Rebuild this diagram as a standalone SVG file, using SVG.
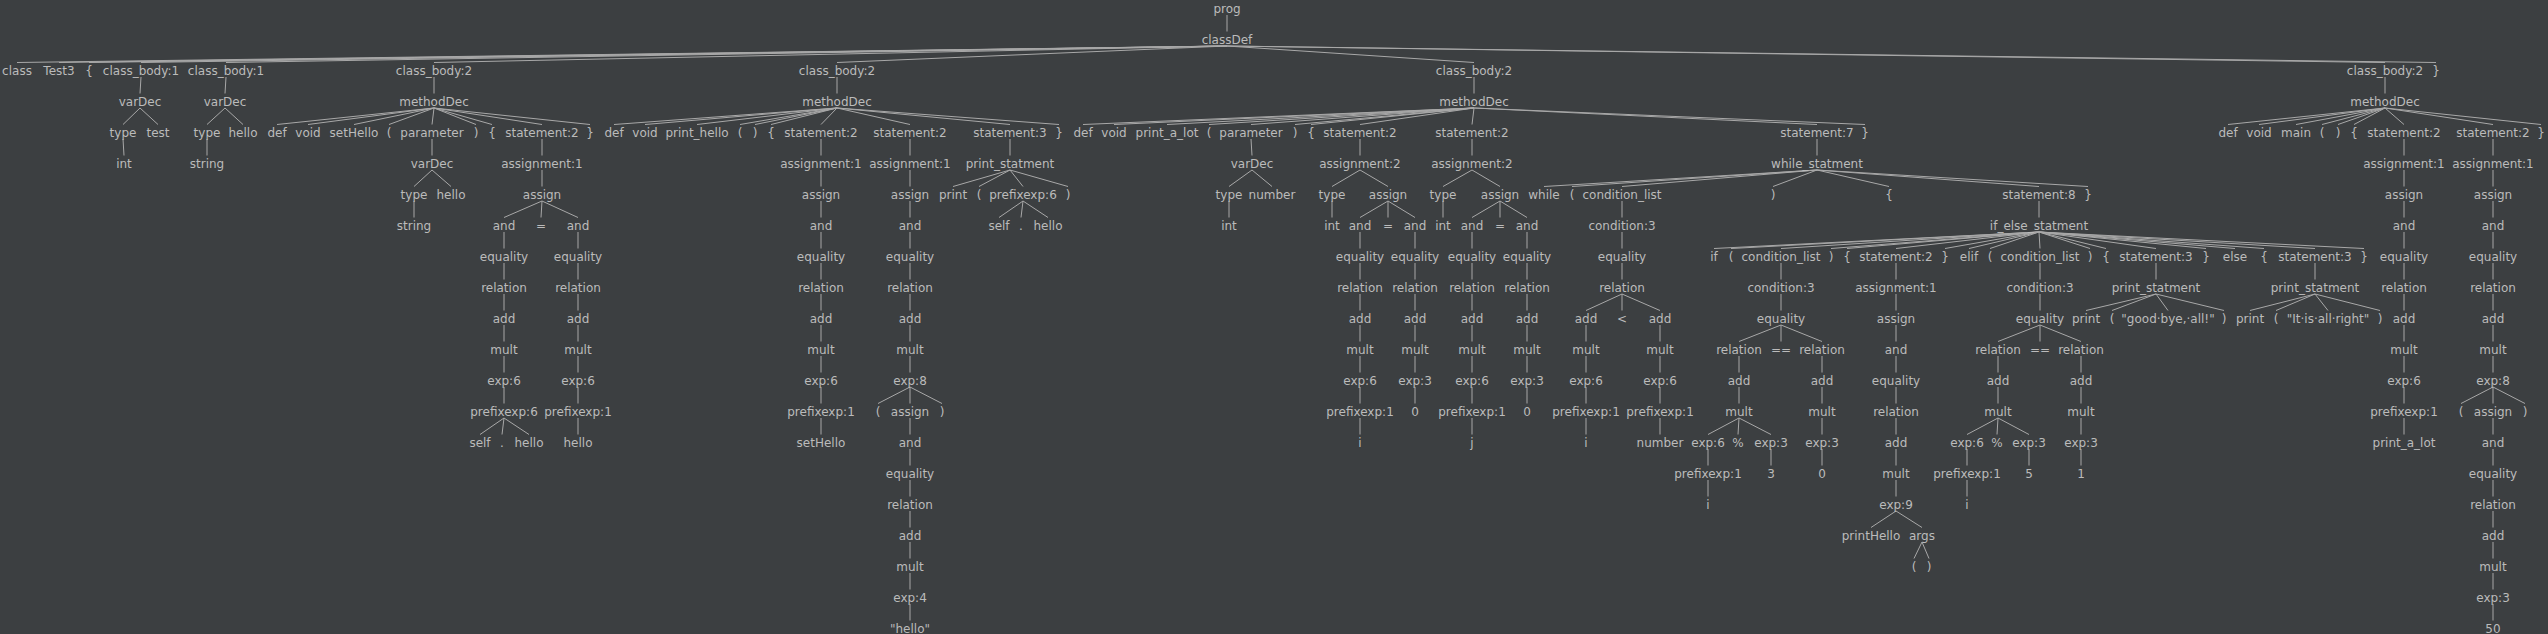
<svg xmlns="http://www.w3.org/2000/svg" width="2548" height="634" viewBox="0 0 2548 634">
<style>
text{font-family:"DejaVu Sans","Liberation Sans",sans-serif;font-size:12px;fill:#bbbbbb;text-anchor:middle}
#edges path{stroke:#a8a8a8;stroke-width:1;fill:none}
</style>
<rect width="2548" height="634" fill="#3c3f41"/>
<g id="edges">
<path d="M1227 15L1227 31.5"/>
<path d="M1227 46L17 62.5"/><path d="M1227 46L59 62.5"/><path d="M1227 46L89 62.5"/><path d="M1227 46L141 62.5"/><path d="M1227 46L226 62.5"/><path d="M1227 46L434 62.5"/><path d="M1227 46L837 62.5"/><path d="M1227 46L1474 62.5"/><path d="M1227 46L2385 62.5"/><path d="M1227 46L2436 62.5"/>
<path d="M141 77L140 93.5"/><path d="M140 108L123 124.5"/><path d="M140 108L158 124.5"/><path d="M123 139L124 155.5"/>
<path d="M226 77L225 93.5"/><path d="M225 108L207 124.5"/><path d="M225 108L243 124.5"/><path d="M207 139L207 155.5"/>
<path d="M434 77L434 93.5"/>
<path d="M434 108L277 124.5"/><path d="M434 108L308 124.5"/><path d="M434 108L354 124.5"/><path d="M434 108L389 124.5"/><path d="M434 108L432 124.5"/><path d="M434 108L476 124.5"/><path d="M434 108L492 124.5"/><path d="M434 108L542 124.5"/><path d="M434 108L590 124.5"/>
<path d="M432 139L432 155.5"/><path d="M432 170L414 186.5"/><path d="M432 170L451 186.5"/><path d="M414 201L414 217.5"/>
<path d="M542 139L542 155.5"/><path d="M542 170L542 186.5"/><path d="M542 201L504 217.5"/><path d="M542 201L541 217.5"/><path d="M542 201L578 217.5"/>
<path d="M504 232L504 248.5"/><path d="M504 263L504 279.5"/><path d="M504 294L504 310.5"/><path d="M504 325L504 341.5"/><path d="M504 356L504 372.5"/><path d="M504 387L504 403.5"/><path d="M504 418L480 434.5"/><path d="M504 418L502 434.5"/><path d="M504 418L529 434.5"/>
<path d="M578 232L578 248.5"/><path d="M578 263L578 279.5"/><path d="M578 294L578 310.5"/><path d="M578 325L578 341.5"/><path d="M578 356L578 372.5"/><path d="M578 387L578 403.5"/><path d="M578 418L578 434.5"/>
<path d="M837 77L837 93.5"/>
<path d="M837 108L614 124.5"/><path d="M837 108L645 124.5"/><path d="M837 108L697 124.5"/><path d="M837 108L740 124.5"/><path d="M837 108L755 124.5"/><path d="M837 108L771 124.5"/><path d="M837 108L821 124.5"/><path d="M837 108L910 124.5"/><path d="M837 108L1010 124.5"/><path d="M837 108L1059 124.5"/>
<path d="M821 139L821 155.5"/><path d="M821 170L821 186.5"/><path d="M821 201L821 217.5"/><path d="M821 232L821 248.5"/><path d="M821 263L821 279.5"/><path d="M821 294L821 310.5"/><path d="M821 325L821 341.5"/><path d="M821 356L821 372.5"/><path d="M821 387L821 403.5"/><path d="M821 418L821 434.5"/>
<path d="M910 139L910 155.5"/><path d="M910 170L910 186.5"/><path d="M910 201L910 217.5"/><path d="M910 232L910 248.5"/><path d="M910 263L910 279.5"/><path d="M910 294L910 310.5"/><path d="M910 325L910 341.5"/><path d="M910 356L910 372.5"/><path d="M910 387L878 403.5"/><path d="M910 387L910 403.5"/><path d="M910 387L942 403.5"/><path d="M910 418L910 434.5"/><path d="M910 449L910 465.5"/><path d="M910 480L910 496.5"/><path d="M910 511L910 527.5"/><path d="M910 542L910 558.5"/><path d="M910 573L910 589.5"/><path d="M910 604L910 620.5"/>
<path d="M1010 139L1010 155.5"/><path d="M1010 170L953 186.5"/><path d="M1010 170L979 186.5"/><path d="M1010 170L1023 186.5"/><path d="M1010 170L1068 186.5"/><path d="M1023 201L999 217.5"/><path d="M1023 201L1021 217.5"/><path d="M1023 201L1048 217.5"/>
<path d="M1474 77L1474 93.5"/>
<path d="M1474 108L1083 124.5"/><path d="M1474 108L1114 124.5"/><path d="M1474 108L1167 124.5"/><path d="M1474 108L1209 124.5"/><path d="M1474 108L1251 124.5"/><path d="M1474 108L1295 124.5"/><path d="M1474 108L1311 124.5"/><path d="M1474 108L1360 124.5"/><path d="M1474 108L1472 124.5"/><path d="M1474 108L1817 124.5"/><path d="M1474 108L1865 124.5"/>
<path d="M1251 139L1252 155.5"/><path d="M1252 170L1229 186.5"/><path d="M1252 170L1272 186.5"/><path d="M1229 201L1229 217.5"/>
<path d="M1360 139L1360 155.5"/><path d="M1360 170L1332 186.5"/><path d="M1360 170L1388 186.5"/><path d="M1332 201L1332 217.5"/><path d="M1388 201L1360 217.5"/><path d="M1388 201L1388 217.5"/><path d="M1388 201L1415 217.5"/>
<path d="M1360 232L1360 248.5"/><path d="M1360 263L1360 279.5"/><path d="M1360 294L1360 310.5"/><path d="M1360 325L1360 341.5"/><path d="M1360 356L1360 372.5"/><path d="M1360 387L1360 403.5"/><path d="M1360 418L1360 434.5"/>
<path d="M1415 232L1415 248.5"/><path d="M1415 263L1415 279.5"/><path d="M1415 294L1415 310.5"/><path d="M1415 325L1415 341.5"/><path d="M1415 356L1415 372.5"/><path d="M1415 387L1415 403.5"/>
<path d="M1472 139L1472 155.5"/><path d="M1472 170L1443 186.5"/><path d="M1472 170L1500 186.5"/><path d="M1443 201L1443 217.5"/><path d="M1500 201L1472 217.5"/><path d="M1500 201L1500 217.5"/><path d="M1500 201L1527 217.5"/>
<path d="M1472 232L1472 248.5"/><path d="M1472 263L1472 279.5"/><path d="M1472 294L1472 310.5"/><path d="M1472 325L1472 341.5"/><path d="M1472 356L1472 372.5"/><path d="M1472 387L1472 403.5"/><path d="M1472 418L1472 434.5"/>
<path d="M1527 232L1527 248.5"/><path d="M1527 263L1527 279.5"/><path d="M1527 294L1527 310.5"/><path d="M1527 325L1527 341.5"/><path d="M1527 356L1527 372.5"/><path d="M1527 387L1527 403.5"/>
<path d="M1817 139L1817 155.5"/>
<path d="M1817 170L1544 186.5"/><path d="M1817 170L1572 186.5"/><path d="M1817 170L1622 186.5"/><path d="M1817 170L1773 186.5"/><path d="M1817 170L1889 186.5"/><path d="M1817 170L2039 186.5"/><path d="M1817 170L2088 186.5"/>
<path d="M1622 201L1622 217.5"/><path d="M1622 232L1622 248.5"/><path d="M1622 263L1622 279.5"/><path d="M1622 294L1586 310.5"/><path d="M1622 294L1622 310.5"/><path d="M1622 294L1660 310.5"/>
<path d="M1586 325L1586 341.5"/><path d="M1586 356L1586 372.5"/><path d="M1586 387L1586 403.5"/><path d="M1586 418L1586 434.5"/>
<path d="M1660 325L1660 341.5"/><path d="M1660 356L1660 372.5"/><path d="M1660 387L1660 403.5"/><path d="M1660 418L1660 434.5"/>
<path d="M2039 201L2039 217.5"/>
<path d="M2039 232L1714 248.5"/><path d="M2039 232L1731 248.5"/><path d="M2039 232L1781 248.5"/><path d="M2039 232L1831 248.5"/><path d="M2039 232L1847 248.5"/><path d="M2039 232L1896 248.5"/><path d="M2039 232L1945 248.5"/><path d="M2039 232L1969 248.5"/><path d="M2039 232L1990 248.5"/><path d="M2039 232L2040 248.5"/><path d="M2039 232L2090 248.5"/><path d="M2039 232L2106 248.5"/><path d="M2039 232L2156 248.5"/><path d="M2039 232L2206 248.5"/><path d="M2039 232L2235 248.5"/><path d="M2039 232L2264 248.5"/><path d="M2039 232L2315 248.5"/><path d="M2039 232L2364 248.5"/>
<path d="M1781 263L1781 279.5"/><path d="M1781 294L1781 310.5"/><path d="M1781 325L1739 341.5"/><path d="M1781 325L1781 341.5"/><path d="M1781 325L1822 341.5"/>
<path d="M1739 356L1739 372.5"/><path d="M1739 387L1739 403.5"/><path d="M1739 418L1708 434.5"/><path d="M1739 418L1738 434.5"/><path d="M1739 418L1771 434.5"/><path d="M1708 449L1708 465.5"/><path d="M1708 480L1708 496.5"/><path d="M1771 449L1771 465.5"/>
<path d="M1822 356L1822 372.5"/><path d="M1822 387L1822 403.5"/><path d="M1822 418L1822 434.5"/><path d="M1822 449L1822 465.5"/>
<path d="M1896 263L1896 279.5"/><path d="M1896 294L1896 310.5"/><path d="M1896 325L1896 341.5"/><path d="M1896 356L1896 372.5"/><path d="M1896 387L1896 403.5"/><path d="M1896 418L1896 434.5"/><path d="M1896 449L1896 465.5"/><path d="M1896 480L1896 496.5"/><path d="M1896 511L1871 527.5"/><path d="M1896 511L1922 527.5"/><path d="M1922 542L1914 558.5"/><path d="M1922 542L1929 558.5"/>
<path d="M2040 263L2040 279.5"/><path d="M2040 294L2040 310.5"/><path d="M2040 325L1998 341.5"/><path d="M2040 325L2040 341.5"/><path d="M2040 325L2081 341.5"/>
<path d="M1998 356L1998 372.5"/><path d="M1998 387L1998 403.5"/><path d="M1998 418L1967 434.5"/><path d="M1998 418L1997 434.5"/><path d="M1998 418L2029 434.5"/><path d="M1967 449L1967 465.5"/><path d="M1967 480L1967 496.5"/><path d="M2029 449L2029 465.5"/>
<path d="M2081 356L2081 372.5"/><path d="M2081 387L2081 403.5"/><path d="M2081 418L2081 434.5"/><path d="M2081 449L2081 465.5"/>
<path d="M2156 263L2156 279.5"/><path d="M2156 294L2086 310.5"/><path d="M2156 294L2112 310.5"/><path d="M2156 294L2168 310.5"/><path d="M2156 294L2224 310.5"/>
<path d="M2315 263L2315 279.5"/><path d="M2315 294L2250 310.5"/><path d="M2315 294L2276 310.5"/><path d="M2315 294L2328 310.5"/><path d="M2315 294L2380 310.5"/>
<path d="M2385 77L2385 93.5"/>
<path d="M2385 108L2228 124.5"/><path d="M2385 108L2259 124.5"/><path d="M2385 108L2296 124.5"/><path d="M2385 108L2322 124.5"/><path d="M2385 108L2338 124.5"/><path d="M2385 108L2354 124.5"/><path d="M2385 108L2404 124.5"/><path d="M2385 108L2493 124.5"/><path d="M2385 108L2541 124.5"/>
<path d="M2404 139L2404 155.5"/><path d="M2404 170L2404 186.5"/><path d="M2404 201L2404 217.5"/><path d="M2404 232L2404 248.5"/><path d="M2404 263L2404 279.5"/><path d="M2404 294L2404 310.5"/><path d="M2404 325L2404 341.5"/><path d="M2404 356L2404 372.5"/><path d="M2404 387L2404 403.5"/><path d="M2404 418L2404 434.5"/>
<path d="M2493 139L2493 155.5"/><path d="M2493 170L2493 186.5"/><path d="M2493 201L2493 217.5"/><path d="M2493 232L2493 248.5"/><path d="M2493 263L2493 279.5"/><path d="M2493 294L2493 310.5"/><path d="M2493 325L2493 341.5"/><path d="M2493 356L2493 372.5"/><path d="M2493 387L2461 403.5"/><path d="M2493 387L2493 403.5"/><path d="M2493 387L2525 403.5"/><path d="M2493 418L2493 434.5"/><path d="M2493 449L2493 465.5"/><path d="M2493 480L2493 496.5"/><path d="M2493 511L2493 527.5"/><path d="M2493 542L2493 558.5"/><path d="M2493 573L2493 589.5"/><path d="M2493 604L2493 620.5"/>
</g>
<g id="n_prog"><text x="1227" y="12.5">prog</text></g>
<g id="n_classDef"><text x="1227" y="43.5">classDef</text></g>
<g id="n_class"><text x="17" y="74.5">class</text></g>
<g id="n_Test3"><text x="59" y="74.5">Test3</text></g>
<g id="n_lb0"><text x="89" y="74.5">{</text></g>
<g id="n_cb1a"><text x="141" y="74.5">class_body:1</text></g>
<g id="n_cb1b"><text x="226" y="74.5">class_body:1</text></g>
<g id="n_cb2a"><text x="434" y="74.5">class_body:2</text></g>
<g id="n_cb2b"><text x="837" y="74.5">class_body:2</text></g>
<g id="n_cb2c"><text x="1474" y="74.5">class_body:2</text></g>
<g id="n_cb2d"><text x="2385" y="74.5">class_body:2</text></g>
<g id="n_rb0"><text x="2436" y="74.5">}</text></g>
<g id="a_varDec"><text x="140" y="105.5">varDec</text></g>
<g id="a_type"><text x="123" y="136.5">type</text></g>
<g id="a_test"><text x="158" y="136.5">test</text></g>
<g id="a_int"><text x="124" y="167.5">int</text></g>
<g id="b_varDec"><text x="225" y="105.5">varDec</text></g>
<g id="b_type"><text x="207" y="136.5">type</text></g>
<g id="b_hello"><text x="243" y="136.5">hello</text></g>
<g id="b_string"><text x="207" y="167.5">string</text></g>
<g id="c_methodDec"><text x="434" y="105.5">methodDec</text></g>
<g id="c_def"><text x="277" y="136.5">def</text></g>
<g id="c_void"><text x="308" y="136.5">void</text></g>
<g id="c_setHello"><text x="354" y="136.5">setHello</text></g>
<g id="c_lp"><text x="389" y="136.5">(</text></g>
<g id="c_parameter"><text x="432" y="136.5">parameter</text></g>
<g id="c_rp"><text x="476" y="136.5">)</text></g>
<g id="c_lb"><text x="492" y="136.5">{</text></g>
<g id="c_st2"><text x="542" y="136.5">statement:2</text></g>
<g id="c_rb"><text x="590" y="136.5">}</text></g>
<g id="c_varDec"><text x="432" y="167.5">varDec</text></g>
<g id="c_type"><text x="414" y="198.5">type</text></g>
<g id="c_hello"><text x="451" y="198.5">hello</text></g>
<g id="c_string"><text x="414" y="229.5">string</text></g>
<g id="c_asg1"><text x="542" y="167.5">assignment:1</text></g>
<g id="c_assign"><text x="542" y="198.5">assign</text></g>
<g id="c_and1"><text x="504" y="229.5">and</text></g>
<g id="c_eq"><text x="541" y="229.5">=</text></g>
<g id="c_and2"><text x="578" y="229.5">and</text></g>
<g id="c1_equality"><text x="504" y="260.5">equality</text></g>
<g id="c1_relation"><text x="504" y="291.5">relation</text></g>
<g id="c1_add"><text x="504" y="322.5">add</text></g>
<g id="c1_mult"><text x="504" y="353.5">mult</text></g>
<g id="c1_exp"><text x="504" y="384.5">exp:6</text></g>
<g id="c1_prefix"><text x="504" y="415.5">prefixexp:6</text></g>
<g id="c1_self"><text x="480" y="446.5">self</text></g>
<g id="c1_dot"><text x="502" y="446.5">.</text></g>
<g id="c1_hello"><text x="529" y="446.5">hello</text></g>
<g id="c2_equality"><text x="578" y="260.5">equality</text></g>
<g id="c2_relation"><text x="578" y="291.5">relation</text></g>
<g id="c2_add"><text x="578" y="322.5">add</text></g>
<g id="c2_mult"><text x="578" y="353.5">mult</text></g>
<g id="c2_exp"><text x="578" y="384.5">exp:6</text></g>
<g id="c2_prefix"><text x="578" y="415.5">prefixexp:1</text></g>
<g id="c2_hello"><text x="578" y="446.5">hello</text></g>
<g id="d_methodDec"><text x="837" y="105.5">methodDec</text></g>
<g id="d_def"><text x="614" y="136.5">def</text></g>
<g id="d_void"><text x="645" y="136.5">void</text></g>
<g id="d_print_hello"><text x="697" y="136.5">print_hello</text></g>
<g id="d_lp"><text x="740" y="136.5">(</text></g>
<g id="d_rp"><text x="755" y="136.5">)</text></g>
<g id="d_lb"><text x="771" y="136.5">{</text></g>
<g id="d_st2a"><text x="821" y="136.5">statement:2</text></g>
<g id="d_st2b"><text x="910" y="136.5">statement:2</text></g>
<g id="d_st3"><text x="1010" y="136.5">statement:3</text></g>
<g id="d_rb"><text x="1059" y="136.5">}</text></g>
<g id="d1_asg"><text x="821" y="167.5">assignment:1</text></g>
<g id="d1_assign"><text x="821" y="198.5">assign</text></g>
<g id="d1_and"><text x="821" y="229.5">and</text></g>
<g id="d1_equality"><text x="821" y="260.5">equality</text></g>
<g id="d1_relation"><text x="821" y="291.5">relation</text></g>
<g id="d1_add"><text x="821" y="322.5">add</text></g>
<g id="d1_mult"><text x="821" y="353.5">mult</text></g>
<g id="d1_exp"><text x="821" y="384.5">exp:6</text></g>
<g id="d1_prefix"><text x="821" y="415.5">prefixexp:1</text></g>
<g id="d1_setHello"><text x="821" y="446.5">setHello</text></g>
<g id="d2_asg"><text x="910" y="167.5">assignment:1</text></g>
<g id="d2_assign"><text x="910" y="198.5">assign</text></g>
<g id="d2_and"><text x="910" y="229.5">and</text></g>
<g id="d2_equality"><text x="910" y="260.5">equality</text></g>
<g id="d2_relation"><text x="910" y="291.5">relation</text></g>
<g id="d2_add"><text x="910" y="322.5">add</text></g>
<g id="d2_mult"><text x="910" y="353.5">mult</text></g>
<g id="d2_exp8"><text x="910" y="384.5">exp:8</text></g>
<g id="d2_lp"><text x="878" y="415.5">(</text></g>
<g id="d2_assign2"><text x="910" y="415.5">assign</text></g>
<g id="d2_rp"><text x="942" y="415.5">)</text></g>
<g id="d2_and2"><text x="910" y="446.5">and</text></g>
<g id="d2_equality2"><text x="910" y="477.5">equality</text></g>
<g id="d2_relation2"><text x="910" y="508.5">relation</text></g>
<g id="d2_add2"><text x="910" y="539.5">add</text></g>
<g id="d2_mult2"><text x="910" y="570.5">mult</text></g>
<g id="d2_exp4"><text x="910" y="601.5">exp:4</text></g>
<g id="d2_hello"><text x="910" y="632.5">"hello"</text></g>
<g id="d3_print_statment"><text x="1010" y="167.5">print_statment</text></g>
<g id="d3_print"><text x="953" y="198.5">print</text></g>
<g id="d3_lp"><text x="979" y="198.5">(</text></g>
<g id="d3_prefix"><text x="1023" y="198.5">prefixexp:6</text></g>
<g id="d3_rp"><text x="1068" y="198.5">)</text></g>
<g id="d3_self"><text x="999" y="229.5">self</text></g>
<g id="d3_dot"><text x="1021" y="229.5">.</text></g>
<g id="d3_hello"><text x="1048" y="229.5">hello</text></g>
<g id="e_methodDec"><text x="1474" y="105.5">methodDec</text></g>
<g id="e_def"><text x="1083" y="136.5">def</text></g>
<g id="e_void"><text x="1114" y="136.5">void</text></g>
<g id="e_print_a_lot"><text x="1167" y="136.5">print_a_lot</text></g>
<g id="e_lp"><text x="1209" y="136.5">(</text></g>
<g id="e_parameter"><text x="1251" y="136.5">parameter</text></g>
<g id="e_rp"><text x="1295" y="136.5">)</text></g>
<g id="e_lb"><text x="1311" y="136.5">{</text></g>
<g id="e_st2a"><text x="1360" y="136.5">statement:2</text></g>
<g id="e_st2b"><text x="1472" y="136.5">statement:2</text></g>
<g id="e_st7"><text x="1817" y="136.5">statement:7</text></g>
<g id="e_rb"><text x="1865" y="136.5">}</text></g>
<g id="e_varDec"><text x="1252" y="167.5">varDec</text></g>
<g id="e_type"><text x="1229" y="198.5">type</text></g>
<g id="e_number"><text x="1272" y="198.5">number</text></g>
<g id="e_int"><text x="1229" y="229.5">int</text></g>
<g id="e1_asg"><text x="1360" y="167.5">assignment:2</text></g>
<g id="e1_type"><text x="1332" y="198.5">type</text></g>
<g id="e1_assign"><text x="1388" y="198.5">assign</text></g>
<g id="e1_int"><text x="1332" y="229.5">int</text></g>
<g id="e1_and1"><text x="1360" y="229.5">and</text></g>
<g id="e1_eq"><text x="1388" y="229.5">=</text></g>
<g id="e1_and2"><text x="1415" y="229.5">and</text></g>
<g id="e1a_equality"><text x="1360" y="260.5">equality</text></g>
<g id="e1a_relation"><text x="1360" y="291.5">relation</text></g>
<g id="e1a_add"><text x="1360" y="322.5">add</text></g>
<g id="e1a_mult"><text x="1360" y="353.5">mult</text></g>
<g id="e1a_exp"><text x="1360" y="384.5">exp:6</text></g>
<g id="e1a_prefix"><text x="1360" y="415.5">prefixexp:1</text></g>
<g id="e1a_i"><text x="1360" y="446.5">i</text></g>
<g id="e1b_equality"><text x="1415" y="260.5">equality</text></g>
<g id="e1b_relation"><text x="1415" y="291.5">relation</text></g>
<g id="e1b_add"><text x="1415" y="322.5">add</text></g>
<g id="e1b_mult"><text x="1415" y="353.5">mult</text></g>
<g id="e1b_exp"><text x="1415" y="384.5">exp:3</text></g>
<g id="e1b_0"><text x="1415" y="415.5">0</text></g>
<g id="e2_asg"><text x="1472" y="167.5">assignment:2</text></g>
<g id="e2_type"><text x="1443" y="198.5">type</text></g>
<g id="e2_assign"><text x="1500" y="198.5">assign</text></g>
<g id="e2_int"><text x="1443" y="229.5">int</text></g>
<g id="e2_and1"><text x="1472" y="229.5">and</text></g>
<g id="e2_eq"><text x="1500" y="229.5">=</text></g>
<g id="e2_and2"><text x="1527" y="229.5">and</text></g>
<g id="e2a_equality"><text x="1472" y="260.5">equality</text></g>
<g id="e2a_relation"><text x="1472" y="291.5">relation</text></g>
<g id="e2a_add"><text x="1472" y="322.5">add</text></g>
<g id="e2a_mult"><text x="1472" y="353.5">mult</text></g>
<g id="e2a_exp"><text x="1472" y="384.5">exp:6</text></g>
<g id="e2a_prefix"><text x="1472" y="415.5">prefixexp:1</text></g>
<g id="e2a_j"><text x="1472" y="446.5">j</text></g>
<g id="e2b_equality"><text x="1527" y="260.5">equality</text></g>
<g id="e2b_relation"><text x="1527" y="291.5">relation</text></g>
<g id="e2b_add"><text x="1527" y="322.5">add</text></g>
<g id="e2b_mult"><text x="1527" y="353.5">mult</text></g>
<g id="e2b_exp"><text x="1527" y="384.5">exp:3</text></g>
<g id="e2b_0"><text x="1527" y="415.5">0</text></g>
<g id="w_while_statment"><text x="1817" y="167.5">while_statment</text></g>
<g id="w_while"><text x="1544" y="198.5">while</text></g>
<g id="w_lp"><text x="1572" y="198.5">(</text></g>
<g id="w_condlist"><text x="1622" y="198.5">condition_list</text></g>
<g id="w_rp"><text x="1773" y="198.5">)</text></g>
<g id="w_lb"><text x="1889" y="198.5">{</text></g>
<g id="w_st8"><text x="2039" y="198.5">statement:8</text></g>
<g id="w_rb"><text x="2088" y="198.5">}</text></g>
<g id="w_cond"><text x="1622" y="229.5">condition:3</text></g>
<g id="w_equality"><text x="1622" y="260.5">equality</text></g>
<g id="w_relation"><text x="1622" y="291.5">relation</text></g>
<g id="w_add1"><text x="1586" y="322.5">add</text></g>
<g id="w_lt"><text x="1622" y="322.5">&lt;</text></g>
<g id="w_add2"><text x="1660" y="322.5">add</text></g>
<g id="w1_mult"><text x="1586" y="353.5">mult</text></g>
<g id="w1_exp"><text x="1586" y="384.5">exp:6</text></g>
<g id="w1_prefix"><text x="1586" y="415.5">prefixexp:1</text></g>
<g id="w1_i"><text x="1586" y="446.5">i</text></g>
<g id="w2_mult"><text x="1660" y="353.5">mult</text></g>
<g id="w2_exp"><text x="1660" y="384.5">exp:6</text></g>
<g id="w2_prefix"><text x="1660" y="415.5">prefixexp:1</text></g>
<g id="w2_number"><text x="1660" y="446.5">number</text></g>
<g id="f_if_else"><text x="2039" y="229.5">if_else_statment</text></g>
<g id="f_if"><text x="1714" y="260.5">if</text></g>
<g id="f_lp1"><text x="1731" y="260.5">(</text></g>
<g id="f_cl1"><text x="1781" y="260.5">condition_list</text></g>
<g id="f_rp1"><text x="1831" y="260.5">)</text></g>
<g id="f_lb1"><text x="1847" y="260.5">{</text></g>
<g id="f_st2"><text x="1896" y="260.5">statement:2</text></g>
<g id="f_rb1"><text x="1945" y="260.5">}</text></g>
<g id="f_elif"><text x="1969" y="260.5">elif</text></g>
<g id="f_lp2"><text x="1990" y="260.5">(</text></g>
<g id="f_cl2"><text x="2040" y="260.5">condition_list</text></g>
<g id="f_rp2"><text x="2090" y="260.5">)</text></g>
<g id="f_lb2"><text x="2106" y="260.5">{</text></g>
<g id="f_st3a"><text x="2156" y="260.5">statement:3</text></g>
<g id="f_rb2"><text x="2206" y="260.5">}</text></g>
<g id="f_else"><text x="2235" y="260.5">else</text></g>
<g id="f_lb3"><text x="2264" y="260.5">{</text></g>
<g id="f_st3b"><text x="2315" y="260.5">statement:3</text></g>
<g id="f_rb3"><text x="2364" y="260.5">}</text></g>
<g id="f1_cond"><text x="1781" y="291.5">condition:3</text></g>
<g id="f1_equality"><text x="1781" y="322.5">equality</text></g>
<g id="f1_rel1"><text x="1739" y="353.5">relation</text></g>
<g id="f1_eqeq"><text x="1781" y="353.5">==</text></g>
<g id="f1_rel2"><text x="1822" y="353.5">relation</text></g>
<g id="f1a_add"><text x="1739" y="384.5">add</text></g>
<g id="f1a_mult"><text x="1739" y="415.5">mult</text></g>
<g id="f1a_exp6"><text x="1708" y="446.5">exp:6</text></g>
<g id="f1a_pct"><text x="1738" y="446.5">%</text></g>
<g id="f1a_exp3"><text x="1771" y="446.5">exp:3</text></g>
<g id="f1a_prefix"><text x="1708" y="477.5">prefixexp:1</text></g>
<g id="f1a_i"><text x="1708" y="508.5">i</text></g>
<g id="f1a_3"><text x="1771" y="477.5">3</text></g>
<g id="f1b_add"><text x="1822" y="384.5">add</text></g>
<g id="f1b_mult"><text x="1822" y="415.5">mult</text></g>
<g id="f1b_exp3"><text x="1822" y="446.5">exp:3</text></g>
<g id="f1b_0"><text x="1822" y="477.5">0</text></g>
<g id="f2_asg"><text x="1896" y="291.5">assignment:1</text></g>
<g id="f2_assign"><text x="1896" y="322.5">assign</text></g>
<g id="f2_and"><text x="1896" y="353.5">and</text></g>
<g id="f2_equality"><text x="1896" y="384.5">equality</text></g>
<g id="f2_relation"><text x="1896" y="415.5">relation</text></g>
<g id="f2_add"><text x="1896" y="446.5">add</text></g>
<g id="f2_mult"><text x="1896" y="477.5">mult</text></g>
<g id="f2_exp9"><text x="1896" y="508.5">exp:9</text></g>
<g id="f2_printHello"><text x="1871" y="539.5">printHello</text></g>
<g id="f2_args"><text x="1922" y="539.5">args</text></g>
<g id="f2_lp"><text x="1914" y="570.5">(</text></g>
<g id="f2_rp"><text x="1929" y="570.5">)</text></g>
<g id="f3_cond"><text x="2040" y="291.5">condition:3</text></g>
<g id="f3_equality"><text x="2040" y="322.5">equality</text></g>
<g id="f3_rel1"><text x="1998" y="353.5">relation</text></g>
<g id="f3_eqeq"><text x="2040" y="353.5">==</text></g>
<g id="f3_rel2"><text x="2081" y="353.5">relation</text></g>
<g id="f3a_add"><text x="1998" y="384.5">add</text></g>
<g id="f3a_mult"><text x="1998" y="415.5">mult</text></g>
<g id="f3a_exp6"><text x="1967" y="446.5">exp:6</text></g>
<g id="f3a_pct"><text x="1997" y="446.5">%</text></g>
<g id="f3a_exp3"><text x="2029" y="446.5">exp:3</text></g>
<g id="f3a_prefix"><text x="1967" y="477.5">prefixexp:1</text></g>
<g id="f3a_i"><text x="1967" y="508.5">i</text></g>
<g id="f3a_5"><text x="2029" y="477.5">5</text></g>
<g id="f3b_add"><text x="2081" y="384.5">add</text></g>
<g id="f3b_mult"><text x="2081" y="415.5">mult</text></g>
<g id="f3b_exp3"><text x="2081" y="446.5">exp:3</text></g>
<g id="f3b_1"><text x="2081" y="477.5">1</text></g>
<g id="f4_print_statment"><text x="2156" y="291.5">print_statment</text></g>
<g id="f4_print"><text x="2086" y="322.5">print</text></g>
<g id="f4_lp"><text x="2112" y="322.5">(</text></g>
<g id="f4_str"><text x="2168" y="322.5">"good·bye,·all!"</text></g>
<g id="f4_rp"><text x="2224" y="322.5">)</text></g>
<g id="f5_print_statment"><text x="2315" y="291.5">print_statment</text></g>
<g id="f5_print"><text x="2250" y="322.5">print</text></g>
<g id="f5_lp"><text x="2276" y="322.5">(</text></g>
<g id="f5_str"><text x="2328" y="322.5">"It·is·all·right"</text></g>
<g id="f5_rp"><text x="2380" y="322.5">)</text></g>
<g id="g_methodDec"><text x="2385" y="105.5">methodDec</text></g>
<g id="g_def"><text x="2228" y="136.5">def</text></g>
<g id="g_void"><text x="2259" y="136.5">void</text></g>
<g id="g_main"><text x="2296" y="136.5">main</text></g>
<g id="g_lp"><text x="2322" y="136.5">(</text></g>
<g id="g_rp"><text x="2338" y="136.5">)</text></g>
<g id="g_lb"><text x="2354" y="136.5">{</text></g>
<g id="g_st2a"><text x="2404" y="136.5">statement:2</text></g>
<g id="g_st2b"><text x="2493" y="136.5">statement:2</text></g>
<g id="g_rb"><text x="2541" y="136.5">}</text></g>
<g id="g1_asg"><text x="2404" y="167.5">assignment:1</text></g>
<g id="g1_assign"><text x="2404" y="198.5">assign</text></g>
<g id="g1_and"><text x="2404" y="229.5">and</text></g>
<g id="g1_equality"><text x="2404" y="260.5">equality</text></g>
<g id="g1_relation"><text x="2404" y="291.5">relation</text></g>
<g id="g1_add"><text x="2404" y="322.5">add</text></g>
<g id="g1_mult"><text x="2404" y="353.5">mult</text></g>
<g id="g1_exp"><text x="2404" y="384.5">exp:6</text></g>
<g id="g1_prefix"><text x="2404" y="415.5">prefixexp:1</text></g>
<g id="g1_print_a_lot"><text x="2404" y="446.5">print_a_lot</text></g>
<g id="g2_asg"><text x="2493" y="167.5">assignment:1</text></g>
<g id="g2_assign"><text x="2493" y="198.5">assign</text></g>
<g id="g2_and"><text x="2493" y="229.5">and</text></g>
<g id="g2_equality"><text x="2493" y="260.5">equality</text></g>
<g id="g2_relation"><text x="2493" y="291.5">relation</text></g>
<g id="g2_add"><text x="2493" y="322.5">add</text></g>
<g id="g2_mult"><text x="2493" y="353.5">mult</text></g>
<g id="g2_exp8"><text x="2493" y="384.5">exp:8</text></g>
<g id="g2_lp"><text x="2461" y="415.5">(</text></g>
<g id="g2_assign2"><text x="2493" y="415.5">assign</text></g>
<g id="g2_rp"><text x="2525" y="415.5">)</text></g>
<g id="g2_and2"><text x="2493" y="446.5">and</text></g>
<g id="g2_equality2"><text x="2493" y="477.5">equality</text></g>
<g id="g2_relation2"><text x="2493" y="508.5">relation</text></g>
<g id="g2_add2"><text x="2493" y="539.5">add</text></g>
<g id="g2_mult2"><text x="2493" y="570.5">mult</text></g>
<g id="g2_exp3"><text x="2493" y="601.5">exp:3</text></g>
<g id="g2_50"><text x="2493" y="632.5">50</text></g>
</svg>
